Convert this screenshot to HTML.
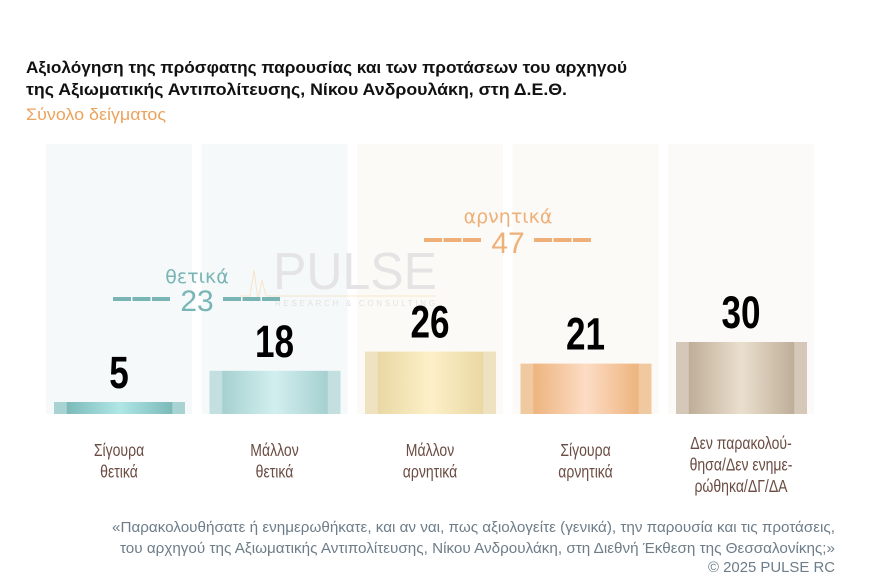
<!DOCTYPE html>
<html><head><meta charset="utf-8"><style>
html,body{margin:0;padding:0;background:#fff;}
svg{display:block;font-family:"Liberation Sans","Noto Sans CJK SC",sans-serif;}
</style></head><body>
<svg id="chart" width="875" height="587" viewBox="0 0 875 587" xmlns="http://www.w3.org/2000/svg">
<defs id="defs"></defs>
<text x="26" y="73" font-size="17" font-weight="bold" fill="#111" textLength="601" lengthAdjust="spacingAndGlyphs">Αξιολόγηση της πρόσφατης παρουσίας και των προτάσεων του αρχηγού</text>
<text x="26" y="95" font-size="17" font-weight="bold" fill="#111" textLength="541" lengthAdjust="spacingAndGlyphs">της Αξιωματικής Αντιπολίτευσης, Νίκου Ανδρουλάκη, στη Δ.Ε.Θ.</text>
<text x="26" y="120" font-size="17" fill="#eba35c" textLength="140" lengthAdjust="spacingAndGlyphs">Σύνολο δείγματος</text>
<g id="bgcols"></g>
<g>
<text x="355" y="289" font-size="52" fill="#e4e4e4" text-anchor="middle" textLength="164" lengthAdjust="spacingAndGlyphs">PULSE</text>
<text x="355" y="306" font-size="8" fill="#e2e2e2" text-anchor="middle" textLength="160" lengthAdjust="spacing">RESEARCH &amp; CONSULTING</text>
<polyline points="240,296 250,296 254,270 258,300 262,280 266,296 436,296" fill="none" stroke="#f8e4cc" stroke-width="1"/>
</g>
<g id="bars"></g>
<g id="groups"></g>
<g id="cats"></g>
<text x="835" y="532" font-size="15" fill="#6d7d89" text-anchor="end" textLength="723" lengthAdjust="spacingAndGlyphs">«Παρακολουθήσατε ή ενημερωθήκατε, και αν ναι, πως αξιολογείτε (γενικά), την παρουσία και τις προτάσεις,</text>
<text x="835" y="553" font-size="15" fill="#6d7d89" text-anchor="end" textLength="715" lengthAdjust="spacingAndGlyphs">του αρχηγού της Αξιωματικής Αντιπολίτευσης, Νίκου Ανδρουλάκη, στη Διεθνή Έκθεση της Θεσσαλονίκης;»</text>
<text x="835" y="572" font-size="15" fill="#6d7d89" text-anchor="end" textLength="127" lengthAdjust="spacingAndGlyphs">©  2025  PULSE RC</text>
</svg>
<script>
const categories = [["Σίγουρα","θετικά"],["Μάλλον","θετικά"],["Μάλλον","αρνητικά"],["Σίγουρα","αρνητικά"],["Δεν παρακολού-","θησα/Δεν ενημε-","ρώθηκα/ΔΓ/ΔΑ"]];
const values = [5, 18, 26, 21, 30];
const groupLabels = ["θετικά","αρνητικά"];
const groupValues = [23, 47];

const NS="http://www.w3.org/2000/svg";
const colX0=46, colStep=155.5, colW=146, baseY=414, topY=144, pxPerUnit=2.4;
const xCol=i=>colX0+i*colStep;
const yVal=v=>baseY-v*pxPerUnit;
const bgFills=["#f5f9fa","#f5f9fa","#fcfaf6","#fcfaf6","#fbfaf8"];
const grads=[["#a9d3d3","#7cbaba","#b0e6e6"],["#c3dfdf","#a6d0d0","#d2efef"],["#efe2c0","#ead8a4","#fdf0c8"],["#f1c9a0","#edb47e","#fddcc5"],["#d5c8b9","#bfae98","#eadfce"]];
function mk(tag,attrs,parent){const e=document.createElementNS(NS,tag);for(const k in attrs)e.setAttribute(k,attrs[k]);parent.appendChild(e);return e;}
const defs=document.getElementById('defs');
grads.forEach((g,i)=>{
  const lg=mk('linearGradient',{id:'g'+i,x1:'0',x2:'1',y1:'0',y2:'0'},defs);
  [[0,g[0]],[0.095,g[0]],[0.1,g[1]],[0.5,g[2]],[0.9,g[1]],[0.905,g[0]],[1,g[0]]].forEach(s=>mk('stop',{offset:s[0],'stop-color':s[1]},lg));
});
const bg=document.getElementById('bgcols');
const bars=document.getElementById('bars');
const cats=document.getElementById('cats');
values.forEach((v,i)=>{
  const c=mk('rect',{x:xCol(i),y:topY,width:colW,height:baseY-topY,fill:bgFills[i]},bg);
  
  
  const r=mk('rect',{x:xCol(i)+8,y:yVal(v),width:131,height:v*pxPerUnit,fill:'url(#g'+i+')'},bars);
  
  
  const g=mk('g',{transform:'translate('+(xCol(i)+colW/2)+','+(yVal(v)-14)+') scale(0.78,1)'},bars);
  const t=mk('text',{x:0,y:0,'font-size':45,'font-weight':'bold','text-anchor':'middle',fill:'#000'},g);
  t.textContent=v;
  
  
  const lines=categories[i];
  const cg=mk('g',{transform:'translate('+(xCol(i)+colW/2)+',0) scale(0.78,1)'},cats);
  const ct=mk('text',{'font-size':18,fill:'#6b4c42','text-anchor':'middle'},cg);
  
  
  lines.forEach((ln,j)=>{const ts=mk('tspan',{x:0,y:(i==4?449:456)+j*21.5},ct);ts.textContent=ln;});
});
const groupsG=document.getElementById('groups');
const groupCfg=[{cx:197,ly:283,ny:311,dy:299,color:'#7ab5b5'},{cx:508,ly:223,ny:253,dy:240,color:'#eeb078'}];
groupValues.forEach((gv,i)=>{
  const cfg=groupCfg[i];
  const l=mk('text',{x:cfg.cx,y:cfg.ly,'font-size':19,fill:cfg.color,'text-anchor':'middle','font-family':'DejaVu Sans'},groupsG);
  l.textContent=groupLabels[i];
  
  
  const n=mk('text',{x:cfg.cx,y:cfg.ny,'font-size':30,fill:cfg.color,'text-anchor':'middle'},groupsG);
  n.textContent=gv;
  
  
  [[-84,-26],[26,84]].forEach(seg=>{
    const d=mk('line',{x1:cfg.cx+seg[0],x2:cfg.cx+seg[1],y1:cfg.dy,y2:cfg.dy,stroke:cfg.color,'stroke-width':4,'stroke-dasharray':'18 1.5'},groupsG);
    
    
  });
});
</script>
</body></html>
